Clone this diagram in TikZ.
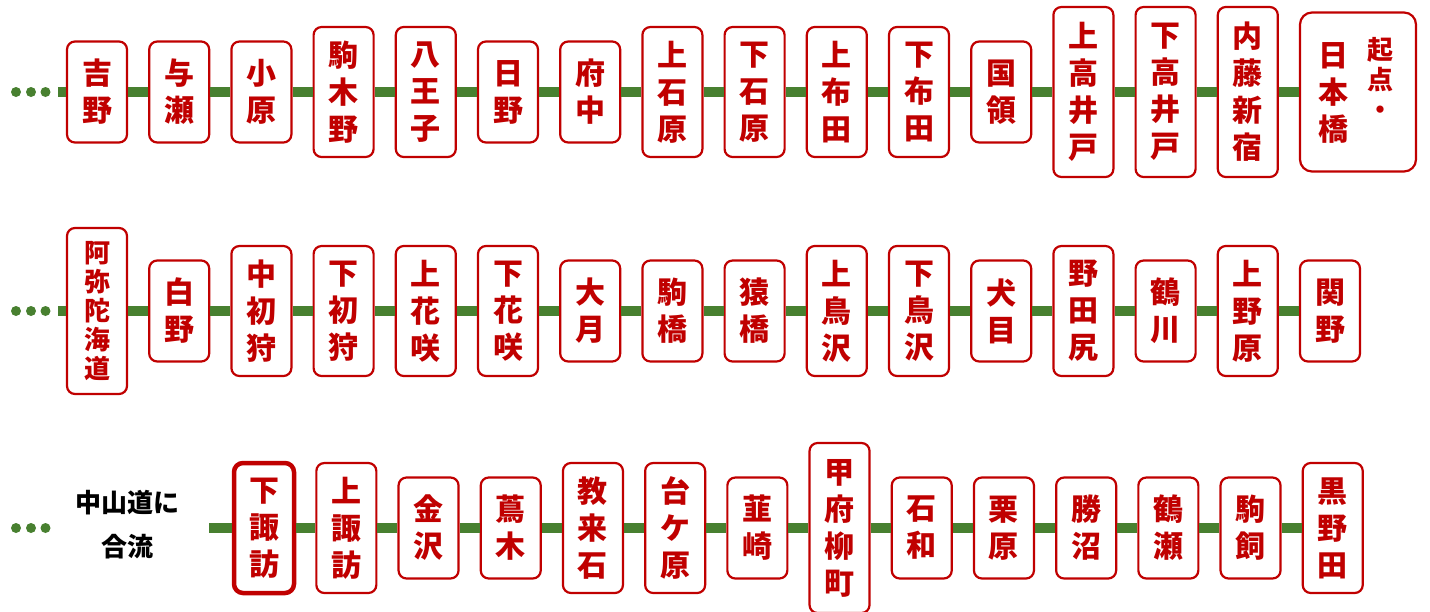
\documentclass[tikz,border=0pt]{standalone}
\usepackage{fontspec}
\newfontfamily\jpfont{Noto Sans CJK JP}
\usepackage{tikz}
\usetikzlibrary{positioning}
\definecolor{stred}{RGB}{192,0,0}
\definecolor{rail}{RGB}{72,128,48}

\begin{document}
\begin{tikzpicture}[x=1pt,y=-1pt,
  stn/.style={rectangle,rounded corners=8pt,draw=stred,line width=2.2pt,fill=white,
              minimum width=60pt,inner sep=0pt,align=center,text=stred,
              font=\jpfont\bfseries\fontsize{30}{37}\selectfont},
  st2/.style={stn,minimum height=101pt},
  st3/.style={stn,minimum height=130pt},
  st4/.style={stn,minimum height=170pt},
  stxt/.style={inner sep=0pt,align=center,text=stred,font=\jpfont\bfseries\fontsize{30}{37}\selectfont},
  trk/.style={line width=10pt,draw=rail}
]
  \useasboundingbox (0,0) rectangle (1430,611);

  % row 1
  \coordinate (a0) at (58,92);
  \node[st2] (a1) at (97,92) {吉\\野};
  \node[st2,right=20pt of a1] (a2) {与\\瀬};
  \node[st2,right=20pt of a2] (a3) {小\\原};
  \node[st3,right=20pt of a3] (a4) {駒\\木\\野};
  \node[st3,right=20pt of a4] (a5) {八\\王\\子};
  \node[st2,right=20pt of a5] (a6) {日\\野};
  \node[st2,right=20pt of a6] (a7) {府\\中};
  \node[st3,right=20pt of a7] (a8) {上\\石\\原};
  \node[st3,right=20pt of a8] (a9) {下\\石\\原};
  \node[st3,right=20pt of a9] (a10) {上\\布\\田};
  \node[st3,right=20pt of a10] (a11) {下\\布\\田};
  \node[st2,right=20pt of a11] (a12) {国\\領};
  \node[st4,right=20pt of a12] (a13) {上\\高\\井\\戸};
  \node[st4,right=20pt of a13] (a14) {下\\高\\井\\戸};
  \node[st4,right=20pt of a14] (a15) {内\\藤\\新\\宿};
  \node[stn,minimum width=116pt,minimum height=159pt,rounded corners=12pt,right=20pt of a15] (a16) {};
  \node[stxt] (a16l) at ([xshift=-25pt,yshift=-1pt]a16.center) {日\\本\\橋};
  \node[stxt,font=\jpfont\bfseries\fontsize{26}{30}\selectfont] (a16r) at ([xshift=22pt,yshift=14pt]a16.center) {起\\点\\・};

  % row 2
  \coordinate (b0) at (58,311);
  \node[stn,minimum height=166pt,font=\jpfont\bfseries\fontsize{26}{29}\selectfont] (b1) at (97,311) {阿\\弥\\陀\\海\\道};
  \node[st2,right=20pt of b1] (b2) {白\\野};
  \node[st3,right=20pt of b2] (b3) {中\\初\\狩};
  \node[st3,right=20pt of b3] (b4) {下\\初\\狩};
  \node[st3,right=20pt of b4] (b5) {上\\花\\咲};
  \node[st3,right=20pt of b5] (b6) {下\\花\\咲};
  \node[st2,right=20pt of b6] (b7) {大\\月};
  \node[st2,right=20pt of b7] (b8) {駒\\橋};
  \node[st2,right=20pt of b8] (b9) {猿\\橋};
  \node[st3,right=20pt of b9] (b10) {上\\鳥\\沢};
  \node[st3,right=20pt of b10] (b11) {下\\鳥\\沢};
  \node[st2,right=20pt of b11] (b12) {犬\\目};
  \node[st3,right=20pt of b12] (b13) {野\\田\\尻};
  \node[st2,right=20pt of b13] (b14) {鶴\\川};
  \node[st3,right=20pt of b14] (b15) {上\\野\\原};
  \node[st2,right=20pt of b15] (b16) {関\\野};

  % row 3
  \node[align=center,inner sep=0pt,font=\jpfont\bfseries\fontsize{26}{44}\selectfont] (jt) at (127,525) {中山道に\\合流};
  \coordinate (c0) at (209,528);
  \node[st3,line width=4.5pt,rounded corners=9pt] (c1) at (264,528) {下\\諏\\訪};
  \node[st3,right=19pt of c1] (c2) {上\\諏\\訪};
  \node[st2,right=20pt of c2] (c3) {金\\沢};
  \node[st2,right=20pt of c3] (c4) {蔦\\木};
  \node[st3,right=20pt of c4] (c5) {教\\来\\石};
  \node[st3,right=20pt of c5] (c6) {台\\ケ\\原};
  \node[st2,right=20pt of c6] (c7) {韮\\崎};
  \node[st4,right=20pt of c7] (c8) {甲\\府\\柳\\町};
  \node[st2,right=20pt of c8] (c9) {石\\和};
  \node[st2,right=20pt of c9] (c10) {栗\\原};
  \node[st2,right=20pt of c10] (c11) {勝\\沼};
  \node[st2,right=20pt of c11] (c12) {鶴\\瀬};
  \node[st2,right=20pt of c12] (c13) {駒\\飼};
  \node[st3,right=20pt of c13] (c14) {黒\\野\\田};

  % track
  \foreach \i [count=\j from 1] in {0,...,15} \draw[trk] (a\i) -- (a\j);
  \foreach \i [count=\j from 1] in {0,...,15} \draw[trk] (b\i) -- (b\j);
  \foreach \i [count=\j from 1] in {0,...,13} \draw[trk] (c\i) -- (c\j);
  \foreach \y in {92,311,528}
    \foreach \x in {16,31,45.5} \fill[rail] (\x,\y) circle (5pt);
\end{tikzpicture}
\end{document}
